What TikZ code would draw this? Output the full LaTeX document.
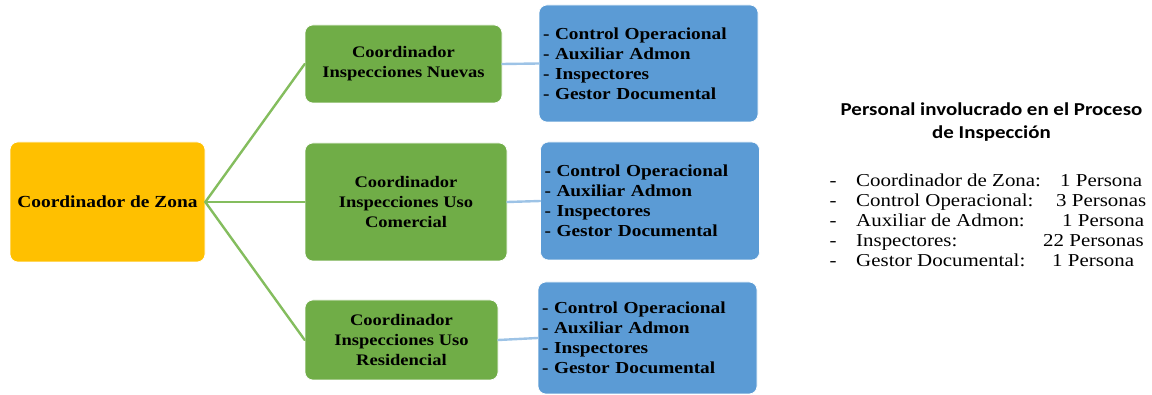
\documentclass[tikz,border=0pt]{standalone}
\usepackage{fontspec}
\setmainfont{Liberation Serif}[FakeStretch=1.15]
\newfontfamily\titlefont{Carlito}[FakeStretch=1.15]
\usepackage{tikz}
\definecolor{zonaorange}{HTML}{FFC000}
\definecolor{coordgreen}{HTML}{70AD47}
\definecolor{ramagreen}{HTML}{84BD5E}
\definecolor{listblue}{HTML}{5B9BD5}
\definecolor{linkblue}{HTML}{9DC3E6}

\begin{document}
\begin{tikzpicture}[x=1pt, y=-1pt, line cap=round, line join=round,
    box/.style={rounded corners=8pt, draw=white, line width=0.6pt, inner sep=0pt, align=center},
    zona/.style={box, fill=zonaorange, font=\bfseries\fontsize{16.9}{20}\selectfont},
    coord/.style={box, fill=coordgreen, font=\bfseries\fontsize{16.1}{20}\selectfont},
    lista/.style={box, fill=listblue, align=left, text width=211pt, inner xsep=4pt,
        font=\bfseries\fontsize{16.8}{20}\selectfont},
    rama/.style={draw=ramagreen, line width=2.4pt},
    enlace/.style={draw=linkblue, line width=2.4pt},
    item/.style={anchor=base west, inner sep=0pt, font=\fontsize{18.2}{20}\selectfont}]
    \useasboundingbox (0,0) rectangle (1152,395);

    \node[zona, minimum width=195pt, minimum height=120pt] (zona) at (107.5,202) {Coordinador de Zona};

    \node[coord, minimum width=197pt, minimum height=78pt] (nuevas) at (403.5,64) {Coordinador\\Inspecciones Nuevas};
    \node[coord, minimum width=202pt, minimum height=118pt] (comercial) at (406,202) {Coordinador\\Inspecciones Uso\\Comercial};
    \node[coord, minimum width=193pt, minimum height=80pt] (residencial) at (401.5,340) {Coordinador\\Inspecciones Uso\\Residencial};

    \node[lista, minimum height=117pt] (lista1) at (648.5,63.5) {- Control Operacional\\- Auxiliar Admon\\- Inspectores\\- Gestor Documental};
    \node[lista, minimum height=118pt] (lista2) at (650,201) {- Control Operacional\\- Auxiliar Admon\\- Inspectores\\- Gestor Documental};
    \node[lista, minimum height=112pt] (lista3) at (647.5,338) {- Control Operacional\\- Auxiliar Admon\\- Inspectores\\- Gestor Documental};

    \draw[rama] (zona.east) -- (nuevas.west);
    \draw[rama] (zona.east) -- (comercial.west);
    \draw[rama] (zona.east) -- (residencial.west);

    \draw[enlace] (nuevas.east) -- (lista1.west);
    \draw[enlace] (comercial.east) -- (lista2.west);
    \draw[enlace] (residencial.east) -- (lista3.west);

    % resumen de personal
    \node[inner sep=0pt, align=center, font=\titlefont\bfseries\fontsize{18.2}{23}\selectfont] (titulo) at (991.5,122)
        {Personal involucrado en el Proceso\\de Inspección};

    \node[item, anchor=base] (g1) at (833,187) {-};
    \node[item, anchor=base] (g2) at (833,207) {-};
    \node[item, anchor=base] (g3) at (833,227) {-};
    \node[item, anchor=base] (g4) at (833,247) {-};
    \node[item, anchor=base] (g5) at (833,267) {-};

    \node[item] (cargo1) at (856,187) {Coordinador de Zona:};
    \node[item] (cargo2) at (856,207) {Control Operacional:};
    \node[item] (cargo3) at (856,227) {Auxiliar de Admon:};
    \node[item] (cargo4) at (856,247) {Inspectores:};
    \node[item] (cargo5) at (856,267) {Gestor Documental:};

    \node[item] (num1) at (1060,187) {1 Persona};
    \node[item] (num2) at (1056,207) {3 Personas};
    \node[item] (num3) at (1062,227) {1 Persona};
    \node[item] (num4) at (1043,247) {22 Personas};
    \node[item] (num5) at (1052,267) {1 Persona};
\end{tikzpicture}
\end{document}
